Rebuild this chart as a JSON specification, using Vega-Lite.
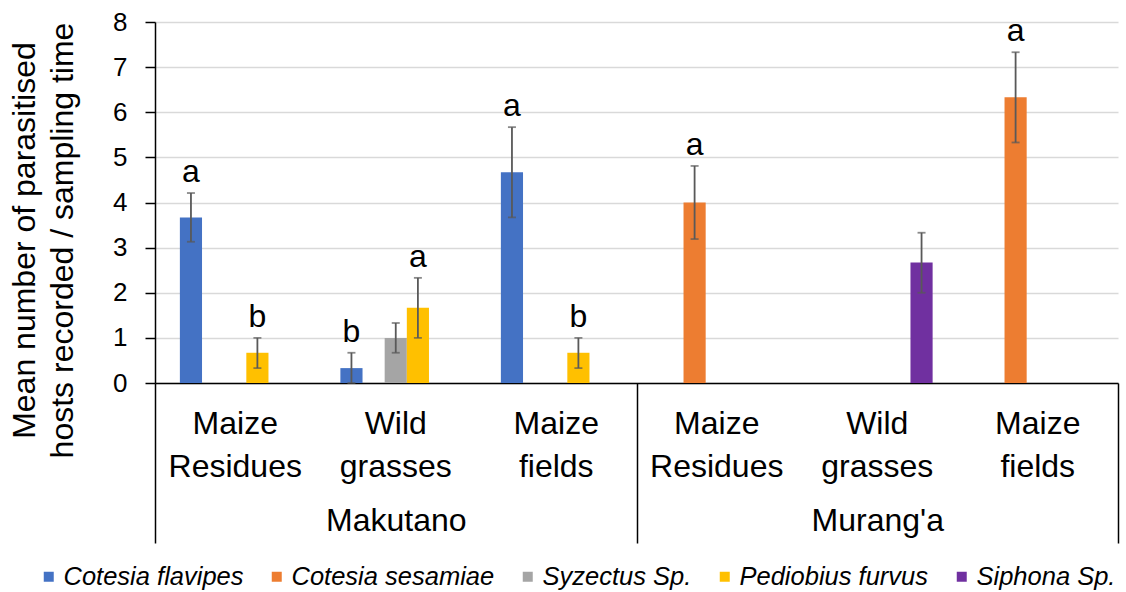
{
  "$schema": "https://vega.github.io/schema/vega-lite/v6.json",
  "width": 963,
  "height": 361,
  "autosize": {"type": "none"},
  "padding": {"left": 155, "top": 22, "right": 8, "bottom": 209},
  "config": {"font": "Liberation Sans", "view": {"stroke": null}},
  "data": {
    "values": [
      {"site": "Makutano", "cat": "Makutano|Maize Residues", "species": "Cotesia flavipes", "mean": 3.67, "lo": 3.13, "hi": 4.21, "letter": "a"},
      {"site": "Makutano", "cat": "Makutano|Maize Residues", "species": "Pediobius furvus", "mean": 0.67, "lo": 0.33, "hi": 1.0, "letter": "b"},
      {"site": "Makutano", "cat": "Makutano|Wild grasses", "species": "Cotesia flavipes", "mean": 0.33, "lo": 0.0, "hi": 0.67, "letter": "b"},
      {"site": "Makutano", "cat": "Makutano|Wild grasses", "species": "Syzectus Sp.", "mean": 1.0, "lo": 0.67, "hi": 1.33, "letter": ""},
      {"site": "Makutano", "cat": "Makutano|Wild grasses", "species": "Pediobius furvus", "mean": 1.67, "lo": 1.0, "hi": 2.33, "letter": "a"},
      {"site": "Makutano", "cat": "Makutano|Maize fields", "species": "Cotesia flavipes", "mean": 4.67, "lo": 3.67, "hi": 5.67, "letter": "a"},
      {"site": "Makutano", "cat": "Makutano|Maize fields", "species": "Pediobius furvus", "mean": 0.67, "lo": 0.33, "hi": 1.0, "letter": "b"},
      {"site": "Murang'a", "cat": "Murang'a|Maize Residues", "species": "Cotesia sesamiae", "mean": 4.0, "lo": 3.19, "hi": 4.81, "letter": "a"},
      {"site": "Murang'a", "cat": "Murang'a|Wild grasses", "species": "Siphona Sp.", "mean": 2.67, "lo": 2.0, "hi": 3.33, "letter": ""},
      {"site": "Murang'a", "cat": "Murang'a|Maize fields", "species": "Cotesia sesamiae", "mean": 6.33, "lo": 5.33, "hi": 7.33, "letter": "a"}
    ]
  },
  "layer": [
    {
      "encoding": {
        "x": {
          "field": "cat",
          "type": "nominal",
          "scale": {
            "domain": ["Makutano|Maize Residues", "Makutano|Wild grasses", "Makutano|Maize fields", "Murang'a|Maize Residues", "Murang'a|Wild grasses", "Murang'a|Maize fields"],
            "paddingInner": 0.31,
            "paddingOuter": 0.155
          },
          "axis": {
            "title": null,
            "domain": true,
            "domainColor": "black",
            "domainWidth": 1.5,
            "ticks": false,
            "labelAngle": 0,
            "labelFontSize": 32,
            "labelColor": "black",
            "labelPadding": 25,
            "labelLineHeight": 43,
            "labelBaseline": "top",
            "labelLimit": 0,
            "labelExpr": "split(split(datum.label, '|')[1], ' ')"
          }
        },
        "xOffset": {
          "field": "species",
          "type": "nominal",
          "scale": {
            "domain": ["Cotesia flavipes", "Cotesia sesamiae", "Syzectus Sp.", "Pediobius furvus", "Siphona Sp."],
            "paddingInner": 0,
            "paddingOuter": 0
          }
        }
      },
      "layer": [
        {
          "mark": {"type": "bar"},
          "encoding": {
            "y": {
              "field": "mean",
              "type": "quantitative",
              "scale": {"domain": [0, 8], "nice": false},
              "axis": {
                "title": ["Mean number of parasitised", "hosts recorded / sampling time"],
                "titleFontSize": 32,
                "titleFontWeight": "normal",
                "titleColor": "black",
                "titleLineHeight": 38,
                "titleX": -114,
                "titleY": 218,
                "titleAngle": -90,
                "titleBaseline": "bottom",
                "values": [0, 1, 2, 3, 4, 5, 6, 7, 8],
                "labelFontSize": 26,
                "labelColor": "black",
                "labelPadding": 18,
                "tickSize": 10,
                "tickColor": "black",
                "tickWidth": 1.5,
                "domainColor": "black",
                "domainWidth": 1.5,
                "grid": true,
                "gridColor": "#d9d9d9",
                "gridWidth": 1.5
              }
            },
            "color": {
              "field": "species",
              "type": "nominal",
              "scale": {
                "domain": ["Cotesia flavipes", "Cotesia sesamiae", "Syzectus Sp.", "Pediobius furvus", "Siphona Sp."],
                "range": ["#4472C4", "#ED7D31", "#A5A5A5", "#FFC000", "#7030A0"]
              },
              "legend": {
                "title": null,
                "orient": "none",
                "legendX": -119,
                "legendY": 542,
                "direction": "horizontal",
                "columns": 5,
                "gridAlign": "none",
                "padding": 0,
                "symbolType": "square",
                "symbolSize": 100,
                "symbolStrokeWidth": 0,
                "labelFontSize": 25.5,
                "labelFontStyle": "italic",
                "labelColor": "black",
                "labelOffset": 2,
                "columnPadding": 20,
                "labelLimit": 0
              }
            }
          }
        },
        {
          "mark": {"type": "rule", "color": "#595959", "strokeWidth": 1.8},
          "encoding": {
            "y": {"field": "lo", "type": "quantitative"},
            "y2": {"field": "hi"}
          }
        },
        {
          "mark": {"type": "tick", "color": "#595959", "thickness": 1.8, "size": 8},
          "encoding": {"y": {"field": "lo", "type": "quantitative"}}
        },
        {
          "mark": {"type": "tick", "color": "#595959", "thickness": 1.8, "size": 8},
          "encoding": {"y": {"field": "hi", "type": "quantitative"}}
        },
        {
          "transform": [{"filter": "datum.letter != ''"}],
          "mark": {"type": "text", "fontSize": 32, "baseline": "alphabetic", "dy": -11, "color": "black"},
          "encoding": {
            "y": {"field": "hi", "type": "quantitative"},
            "text": {"field": "letter", "type": "nominal"}
          }
        }
      ]
    },
    {
      "mark": {"type": "point", "opacity": 0},
      "encoding": {
        "x": {
          "field": "site",
          "type": "nominal",
          "scale": {"domain": ["Makutano", "Murang'a"], "paddingInner": 0, "paddingOuter": 0},
          "axis": {
            "orient": "bottom",
            "title": null,
            "domain": false,
            "ticks": true,
            "tickBand": "extent",
            "tickSize": 160,
            "tickColor": "black",
            "tickWidth": 1.5,
            "labelAngle": 0,
            "labelFontSize": 32,
            "labelColor": "black",
            "labelPadding": -38,
            "labelBaseline": "top"
          }
        }
      }
    }
  ],
  "resolve": {"scale": {"x": "independent"}, "axis": {"x": "independent"}}
}
